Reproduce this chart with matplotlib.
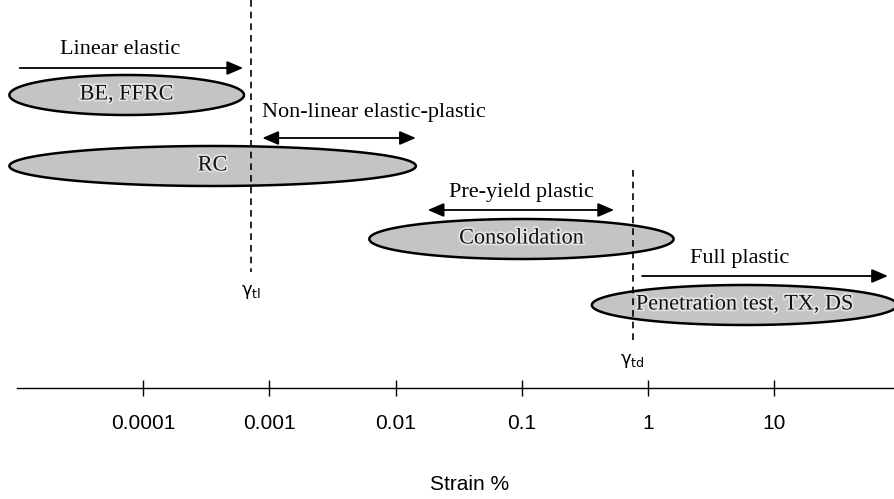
import numpy as np
import matplotlib
matplotlib.use('Agg')
import matplotlib.pyplot as plt
import matplotlib.patheffects as pe

# Rangos de deformacion (%) de cada ensayo
ensayos = ['BE, FFRC', 'RC', 'Consolidation', 'Penetration test, TX, DS']
ensayo_min = [8.7e-6, 8.7e-6, 6.2e-3, 0.36]
ensayo_max = [6.3e-4, 1.45e-2, 1.6, 95]

# Zonas de comportamiento (%)
zonas = ['Linear elastic', 'Non-linear elastic-plastic', 'Pre-yield plastic', 'Full plastic']
zona_min = [1.05e-5, 8.8e-4, 1.8e-2, 0.9]
zona_max = [6.2e-4, 1.45e-2, 0.54, 80]
zona_doble = [False, True, True, False]

# Umbrales
umbrales = [r'$\mathrm{\gamma}_{\mathrm{tl}}$', r'$\mathrm{\gamma}_{\mathrm{td}}$']
umbral_val = [7.2e-4, 0.76]

ticks = [0.0001, 0.001, 0.01, 0.1, 1, 10]
tick_labels = ['0.0001', '0.001', '0.01', '0.1', '1', '10']

# posiciones verticales (filas, de arriba a abajo)
fila_ensayo = [95, 166, 239, 305]
fila_flecha = [68, 138, 210, 276]
fila_texto = [50, 113, 193, 258]
texto_x = [6.6e-5, 8.8e-4, 0.1, 5.3]
texto_ha = ['center', 'left', 'center', 'center']
umbral_tramo = [(0, 272), (170, 343)]
umbral_texto = [292, 361]

fig = plt.figure(figsize=(8.95, 4.99), dpi=100)
ax = fig.add_axes([17 / 895, (499 - 388) / 499, 1 - 17 / 895, 388 / 499])
ax.set_xscale('log')
ax.set_xlim(1e-5, 91)
ax.set_ylim(388, 0)

serif = 'Liberation Serif'

# elipses de cada ensayo (elipse en espacio log)
t = np.linspace(0, 2 * np.pi, 300)
for nombre, lo, hi, yc in zip(ensayos, ensayo_min, ensayo_max, fila_ensayo):
    a, b = np.log10(lo), np.log10(hi)
    c, r = (a + b) / 2, (b - a) / 2
    ax.fill(10 ** (c + r * np.cos(t)), yc + 20 * np.sin(t),
            facecolor='#c4c4c4', edgecolor='black', linewidth=1.8, zorder=2,
            clip_on=False)
    ax.text(10 ** c, yc, nombre, ha='center', va='center', fontsize=16,
            family=serif, color='#111111', zorder=4,
            path_effects=[pe.withStroke(linewidth=2.5, foreground='#e4e4e4')])

# flechas de las zonas
for nombre, lo, hi, doble, yf, yt, xt, ha in zip(zonas, zona_min, zona_max, zona_doble,
                                                  fila_flecha, fila_texto, texto_x, texto_ha):
    estilo = '<|-|>' if doble else '-|>'
    ax.annotate('', xy=(hi, yf), xytext=(lo, yf),
                arrowprops=dict(arrowstyle=estilo + ',head_length=0.7,head_width=0.3',
                                mutation_scale=14, color='black', lw=1.3,
                                shrinkA=0, shrinkB=0), zorder=3)
    ax.text(xt, yt, nombre, ha=ha, va='center', fontsize=16, family=serif)

# lineas de umbral
for etiqueta, v, (y0, y1), yt in zip(umbrales, umbral_val, umbral_tramo, umbral_texto):
    ax.vlines(v, y0, y1, colors='black', linestyles=(0, (4, 3)), linewidth=1.2, zorder=5)
    ax.text(v, yt, etiqueta, ha='center', va='center', fontsize=13)

# eje x
for s in ['top', 'left', 'right']:
    ax.spines[s].set_visible(False)
ax.spines['bottom'].set_linewidth(1.0)
ax.set_yticks([])
ax.set_xticks(ticks)
ax.set_xticklabels(tick_labels, family='Liberation Sans', fontsize=15)
ax.xaxis.set_minor_locator(matplotlib.ticker.NullLocator())
ax.tick_params(axis='x', direction='inout', length=11, width=1, pad=13)
ax.set_xlabel('Strain %', family='Liberation Sans', fontsize=15)
ax.xaxis.set_label_coords(0.515, -0.225)

plt.savefig('out.png', dpi=100)
